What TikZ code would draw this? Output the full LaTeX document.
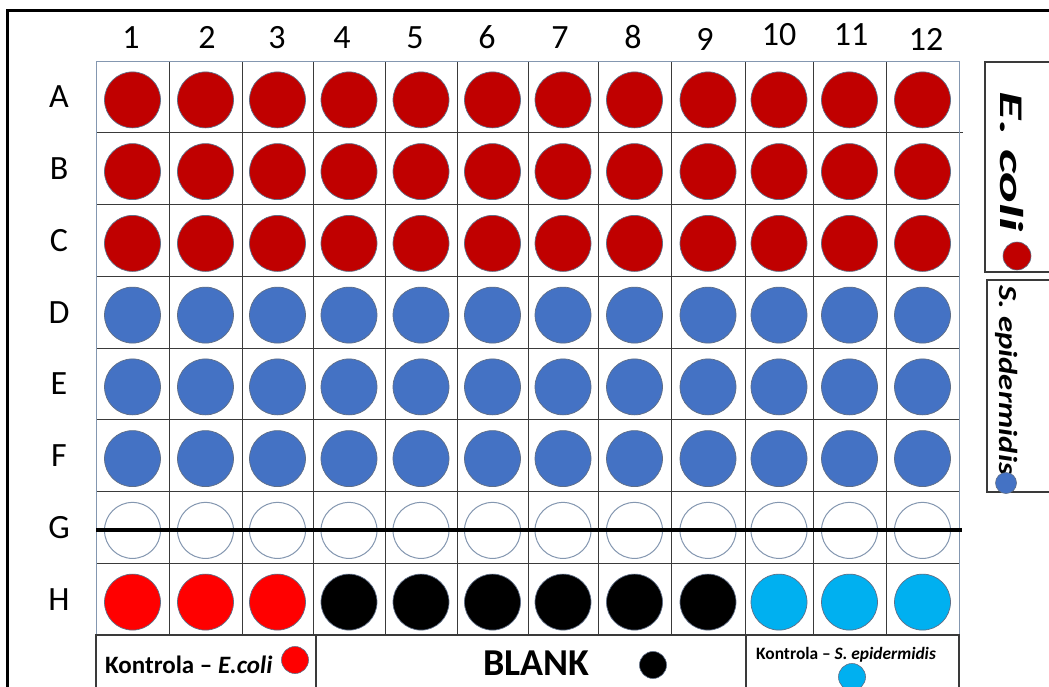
\documentclass[tikz,border=0pt]{standalone}
\usepackage{fontspec}
\setmainfont{Carlito}
\definecolor{ecoli}{HTML}{C00000}
\definecolor{sepi}{HTML}{4472C4}
\definecolor{kred}{HTML}{FF0000}
\definecolor{kblue}{HTML}{00B0F0}
\definecolor{gridouter}{HTML}{8497B0}
\definecolor{gridinner}{HTML}{3A3A3A}
\definecolor{welledge}{HTML}{5F6E86}
\begin{document}
\begin{tikzpicture}[x=1pt,y=-1pt,
  well/.style={circle, minimum size=56pt, inner sep=0pt, draw=welledge, line width=0.7pt},
  emptywell/.style={circle, minimum size=56pt, inner sep=0pt, draw=gridouter, line width=1pt},
  dot/.style={circle, inner sep=0pt, draw=welledge, line width=0.6pt},
  lbl/.style={anchor=base, inner sep=0pt, font=\fontsize{34}{34}\selectfont},
  innerline/.style={draw=gridinner, line width=0.8pt},
  boxline/.style={draw=gridinner, line width=1.1pt}]
\useasboundingbox (0,0) rectangle (1049,686);
\clip (0,0) rectangle (1049,686);
\fill[white] (0,0) rectangle (1049,686);
% outer frame
\draw[line width=3pt] (7,700) -- (7,10) -- (1060,10);
% grid inner lines
\foreach \xx in {169,242,313,385,457,528,598,671,745,813,886}
  \draw[innerline] (\xx,61) -- (\xx,635);
\foreach \i in {1,...,7}
  \draw[innerline] (96,61+\i*71.75) -- (959,61+\i*71.75);
\draw[innerline] (959,132.75) -- (963,132.75);
\draw[draw=gridouter, line width=1pt] (96,61) rectangle (959,635);
% column labels
\foreach \c/\xx/\bl in {1/131/48,2/207/48,3/277/48,4/342/48,5/415/48,6/487/48,7/560/48,8/633/48.5,9/705/50,10/779/45,11/851/45,12/926/50}
  \node[lbl] (col\c) at (\xx,\bl) {\c};
% row labels
\foreach \r/\yy in {A/96.9,B/168.6,C/240.4,D/312.1,E/383.9,F/455.6,G/527.4,H/599.1}
  \node[lbl] (row\r) at (59,\yy+11) {\r};
% wells
\foreach \r/\yy/\col in {A/96.9/ecoli,B/168.6/ecoli,C/240.4/ecoli,D/312.1/sepi,E/383.9/sepi,F/455.6/sepi}
  \foreach \c/\xx in {1/132.5,2/205.5,3/277.5,4/349,5/421,6/492.5,7/563,8/634.5,9/708,10/779,11/849.5,12/922.5}
    \node[well, fill=\col] (w\r\c) at (\xx,\yy+3) {};
\foreach \c/\xx in {1/132.5,2/205.5,3/277.5,4/349,5/421,6/492.5,7/563,8/634.5,9/708,10/779,11/849.5,12/922.5}
  \node[emptywell] (wG\c) at (\xx,530.4) {};
\foreach \c/\xx in {1/132.5,2/205.5,3/277.5}
  \node[well, fill=kred] (wH\c) at (\xx,602.1) {};
\foreach \c/\xx in {4/349,5/421,6/492.5,7/563,8/634.5,9/708}
  \node[well, fill=black] (wH\c) at (\xx,602.1) {};
\foreach \c/\xx in {10/779,11/849.5,12/922.5}
  \node[well, fill=kblue] (wH\c) at (\xx,602.1) {};
% thick line across row G
\draw[line width=4.5pt] (96,530) -- (962,530);
% right legend boxes
\draw[boxline] (1060,62) -- (985,62) -- (985,272) -- (1060,272);
\draw[boxline] (1060,280) -- (987,280) -- (987,492) -- (1060,492);
\node[rotate=-90, inner sep=0pt] (lecoli) at (1012,162)
  {\fontsize{33}{33}\selectfont\bfseries\itshape\resizebox{140pt}{\height}{E. coli}};
\node[dot, minimum size=28pt, fill=ecoli] (decoli) at (1017,256) {};
\node[rotate=-90, inner sep=0pt] (lsepi) at (1007,380)
  {\fontsize{26}{26}\selectfont\bfseries\itshape\resizebox{190pt}{\height}{S. epidermidis}};
\node[dot, minimum size=21pt, fill=sepi] (dsepi) at (1006,483) {};
% bottom legend boxes
\draw[boxline] (96,700) -- (96,635) -- (959,635) -- (959,700);
\draw[boxline] (316,635) -- (316,700);
\draw[boxline] (746,635) -- (746,700);
\node[anchor=base west, inner sep=0pt] (kecoli) at (105,673)
  {\fontsize{25}{25}\selectfont\bfseries Kontrola -- \textit{E.coli}};
\node[dot, minimum size=27pt, fill=kred] (dkecoli) at (295,660) {};
\node[anchor=base west, inner sep=0pt] (blank) at (483,675.5)
  {\fontsize{38}{38}\selectfont\bfseries BLANK};
\node[dot, minimum size=27pt, fill=black] (dblank) at (653,665) {};
\node[anchor=base west, inner sep=0pt] (ksepi) at (756,659)
  {\fontsize{17.4}{17.4}\selectfont\bfseries Kontrola -- \textit{S. epidermidis}};
\node[dot, minimum size=27pt, fill=kblue] (dksepi) at (852,677) {};
\end{tikzpicture}
\end{document}
